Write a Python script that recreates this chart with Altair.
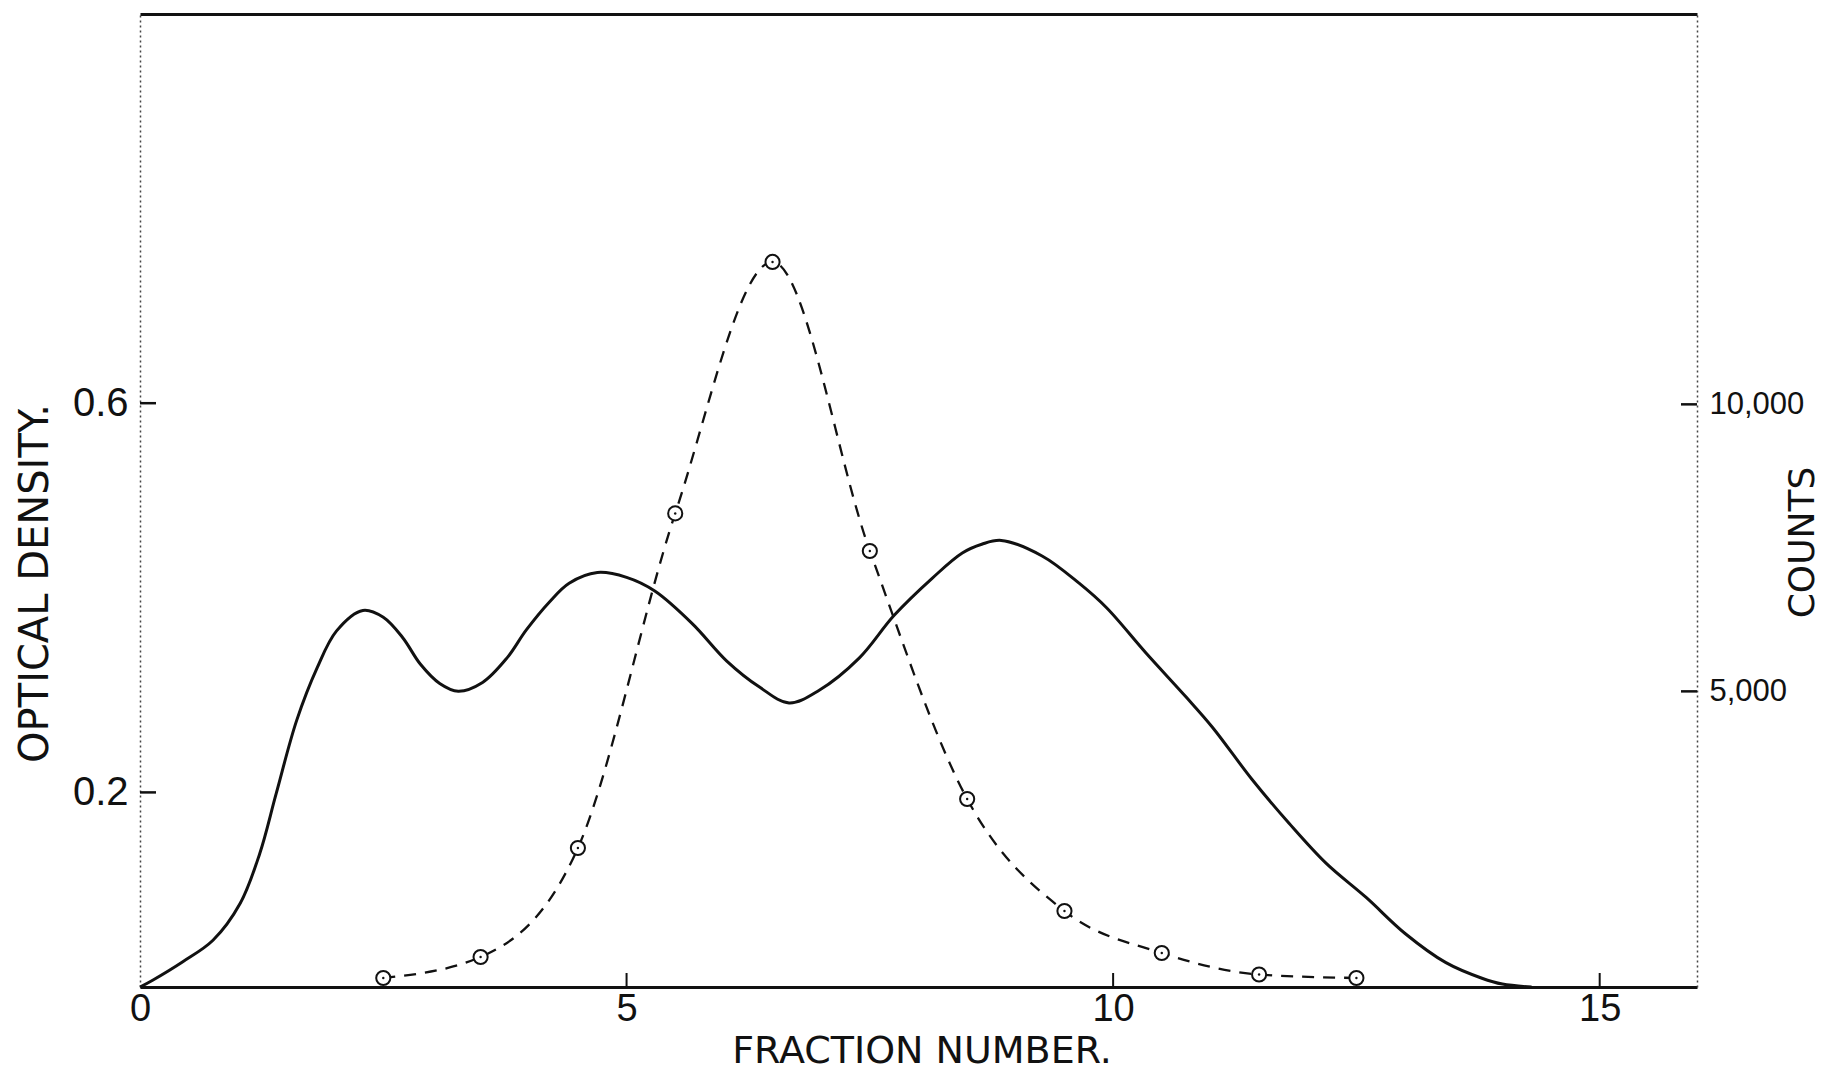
import altair as alt
import pandas as pd

# ---- data ----
fraction_od = [0, 0.13, 0.44, 0.75, 1.03, 1.23, 1.4, 1.61, 1.82, 2.02, 2.29, 2.5, 2.7,
               2.88, 3.08, 3.27, 3.52, 3.77, 3.97, 4.21, 4.41, 4.7, 5.0, 5.29, 5.68,
               6.03, 6.37, 6.67, 6.98, 7.39, 7.75, 8.14, 8.45, 8.65, 8.85, 9.27, 9.65, 9.93,
               10.34, 10.75, 11.02, 11.43, 11.81, 12.19, 12.6, 13.0, 13.42, 13.79, 14.0, 14.3]
optical_density = [0, 0.007, 0.026, 0.048, 0.086, 0.137, 0.199, 0.274, 0.328, 0.366, 0.387,
                   0.38, 0.359, 0.332, 0.312, 0.304, 0.313, 0.338, 0.367, 0.396, 0.415,
                   0.426, 0.421, 0.407, 0.373, 0.335, 0.308, 0.292, 0.305, 0.338, 0.382,
                   0.420, 0.446, 0.455, 0.459, 0.443, 0.415, 0.39, 0.343, 0.298, 0.267, 0.213,
                   0.168, 0.127, 0.092, 0.055, 0.025, 0.009, 0.003, 0.0]
fraction_counts = [2.5, 3.5, 4.5, 5.5, 6.5, 7.5, 8.5, 9.5, 10.5, 11.5, 12.5]
counts = [7, 373, 2272, 8100, 12481, 7446, 3125, 1174, 442, 68, 7]

x_ticks = [0, 5, 10, 15]
od_ticks = [0.2, 0.6]
count_ticks = [5000, 10000]

W, H = 1557, 973
FONT = "DejaVu Sans"
NUM_FONT = "Liberation Sans"
INK = "#111111"

od_df = pd.DataFrame({"fraction": fraction_od, "od": optical_density})
ct_df = pd.DataFrame({"fraction": fraction_counts, "counts": counts})
xt_df = pd.DataFrame({"t": x_ticks[1:]})
odt_df = pd.DataFrame({"v": od_ticks})
ctt_df = pd.DataFrame({"v": count_ticks})

xscale = alt.Scale(domain=[0, 16], nice=False, zero=False)
od_scale = alt.Scale(domain=[0, 1.0], nice=False, zero=False)
ct_scale = alt.Scale(domain=[-150, 16800], nice=False, zero=False)

# ---- optical density group ----
od_line = alt.Chart(od_df).mark_line(color=INK, strokeWidth=3, interpolate="catmull-rom").encode(
    x=alt.X("fraction:Q", scale=xscale,
            axis=alt.Axis(values=x_ticks, format="d", orient="bottom", title="FRACTION NUMBER.",
                          domain=True, domainColor=INK, domainWidth=3, ticks=False, grid=False,
                          labelFont=NUM_FONT, labelFontSize=38, labelColor=INK, labelPadding=3,
                          labelBaseline="top", labelFlush=False, labelOverlap=False,
                          titleFont=FONT, titleFontSize=38, titleFontWeight="normal",
                          titleColor=INK, titleX=W / 2 + 3, titleY=64, titleAlign="center",
                          titleBaseline="middle")),
    y=alt.Y("od:Q", scale=od_scale,
            axis=alt.Axis(values=od_ticks, format=".1f", orient="left", title="OPTICAL DENSITY.",
                          domain=True, domainColor="#444444", domainWidth=1.5, domainDash=[2, 3],
                          ticks=False, grid=False, labelFont=NUM_FONT, labelFontSize=40,
                          labelColor=INK, labelPadding=12, labelOverlap=False, labelFlush=False,
                          titleFont=FONT, titleFontSize=40, titleFontWeight="normal",
                          titleColor=INK, titleAngle=270, titleX=-105, titleY=569,
                          titleAlign="center", titleBaseline="middle")),
)

x_tick_marks = alt.Chart(xt_df).mark_rule(color=INK, strokeWidth=2).encode(
    x=alt.X("t:Q", scale=xscale), y=alt.value(H - 14), y2=alt.value(H)
)
od_tick_marks = alt.Chart(odt_df).mark_rule(color=INK, strokeWidth=2.5).encode(
    y=alt.Y("v:Q", scale=od_scale), x=alt.value(0), x2=alt.value(16)
)

od_group = alt.layer(od_line, x_tick_marks, od_tick_marks)

# ---- counts group ----
ct_line = alt.Chart(ct_df).mark_line(color=INK, strokeWidth=2.3, strokeDash=[12, 9],
                                     interpolate="monotone").encode(
    x=alt.X("fraction:Q", scale=xscale,
            axis=alt.Axis(orient="top", labels=False, ticks=False, title=None, grid=False,
                          domain=True, domainColor=INK, domainWidth=3)),
    y=alt.Y("counts:Q", scale=ct_scale,
            axis=alt.Axis(values=count_ticks, format=",d", orient="right", title="COUNTS",
                          domain=True, domainColor="#444444", domainWidth=1.5, domainDash=[2, 3],
                          ticks=False, grid=False, labelFont=NUM_FONT, labelFontSize=31,
                          labelColor=INK, labelPadding=12, labelOverlap=False, labelFlush=False,
                          titleFont=FONT, titleFontSize=36, titleFontWeight="normal",
                          titleColor=INK, titleAngle=270, titleX=105, titleY=528,
                          titleAlign="center", titleBaseline="middle")),
)
ct_circles = alt.Chart(ct_df).mark_point(shape="circle", filled=True, fill="white", stroke=INK,
                                         strokeWidth=2, size=200, opacity=1).encode(
    x=alt.X("fraction:Q", scale=xscale), y=alt.Y("counts:Q", scale=ct_scale)
)
ct_dots = alt.Chart(ct_df).mark_point(shape="circle", filled=True, color=INK, size=6,
                                      opacity=1).encode(
    x=alt.X("fraction:Q", scale=xscale), y=alt.Y("counts:Q", scale=ct_scale)
)
ct_tick_marks = alt.Chart(ctt_df).mark_rule(color=INK, strokeWidth=2.5).encode(
    y=alt.Y("v:Q", scale=ct_scale), x=alt.value(W - 16), x2=alt.value(W)
)

ct_group = alt.layer(ct_line, ct_circles, ct_dots, ct_tick_marks)

chart = (
    alt.layer(od_group, ct_group)
    .resolve_scale(y="independent", x="independent")
    .properties(width=W, height=H, autosize="none",
                padding={"left": 140, "top": 14, "right": 132, "bottom": 84},
                background="white")
    .configure_view(stroke=None)
)

chart.save("out.html", embed_options={"renderer": "svg", "actions": False})
